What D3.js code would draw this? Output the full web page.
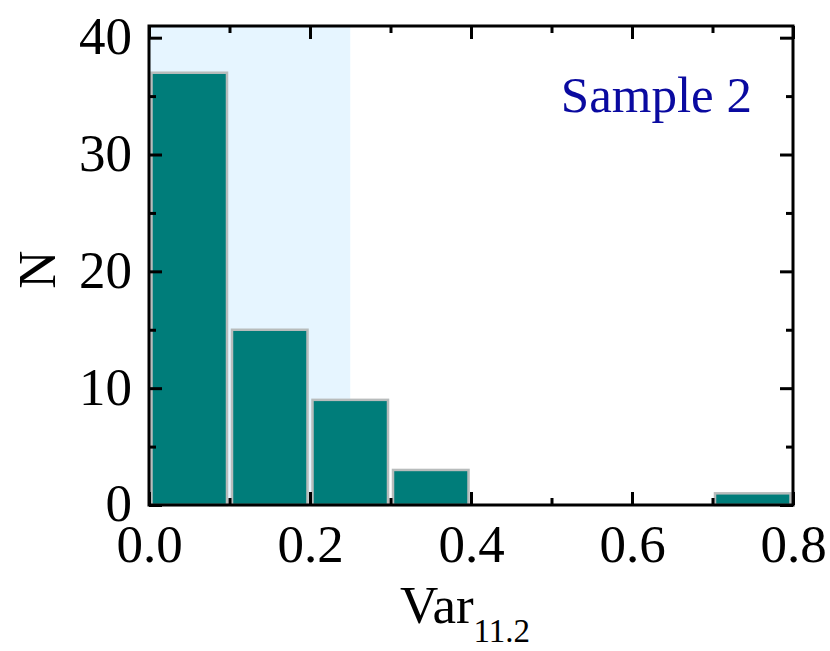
<!DOCTYPE html>
<html>
<head>
<meta charset="utf-8">
<script src="https://cdn.jsdelivr.net/npm/d3@7"></script>
<style>
  body { margin: 0; background: #fff; }
  svg { display: block; }
  text { font-family: "Liberation Serif", "Times New Roman", serif; }
</style>
</head>
<body>
<svg id="chart" width="830" height="651"></svg>
<script>
// Data
const binStarts = [0.0, 0.1, 0.2, 0.3, 0.7];
const binWidth = 0.1;
const counts = [37, 15, 9, 3, 1];
const shadeRange = [0.0, 0.25];
const xTickValues = [0.0, 0.2, 0.4, 0.6, 0.8];
const xTickLabels = ["0.0", "0.2", "0.4", "0.6", "0.8"];
const xMinorTicks = [0.1, 0.3, 0.5, 0.7];
const yTickValues = [0, 10, 20, 30, 40];
const yTickLabels = ["0", "10", "20", "30", "40"];
const yMinorTicks = [5, 15, 25, 35];
const sampleLabel = "Sample 2";

const svg = d3.select("#chart");
const m = { left: 149, right: 830 - 793, top: 26, bottom: 651 - 505 };
const W = 830 - m.left - m.right;
const H = 651 - m.top - m.bottom;

const x = d3.scaleLinear().domain([0, 0.8]).range([0, W]);
const y = d3.scaleLinear().domain([0, 41]).range([H, 0]);

const g = svg.append("g").attr("transform", `translate(${m.left},${m.top})`);

// shaded region
g.append("rect")
  .attr("x", x(shadeRange[0]))
  .attr("y", 0)
  .attr("width", x(shadeRange[1]) - x(shadeRange[0]))
  .attr("height", H)
  .attr("fill", "#e6f5ff");

// bars
const data = binStarts.map((s, i) => ({ s, c: counts[i] }));
g.selectAll("rect.bar").data(data).enter().append("rect")
  .attr("class", "bar")
  .attr("x", d => x(d.s) + 2.5)
  .attr("y", d => y(d.c))
  .attr("width", d => x(d.s + binWidth) - x(d.s) - 5)
  .attr("height", d => y(0) - y(d.c))
  .attr("fill", "#007d7a")
  .attr("stroke", "#b8bcbc")
  .attr("stroke-width", 2.5);

// axes with inward ticks
const tickStyle = sel => {
  sel.select(".domain").remove();
  sel.selectAll("line").attr("stroke", "#000").attr("stroke-width", 3);
};
const fontSize = 53;

// bottom major
g.append("g").attr("transform", `translate(0,${H})`)
  .call(d3.axisBottom(x).tickValues(xTickValues).tickSize(-13).tickPadding(21)
    .tickFormat((d, i) => xTickLabels[i]))
  .call(tickStyle)
  .call(s => s.selectAll("text").attr("font-size", fontSize).attr("fill", "#000")
    .attr("dy", "0.68em"));
// bottom minor
g.append("g").attr("transform", `translate(0,${H})`)
  .call(d3.axisBottom(x).tickValues(xMinorTicks).tickSize(-7).tickFormat(""))
  .call(tickStyle);
// top
g.append("g")
  .call(d3.axisTop(x).tickValues(xTickValues).tickSize(-13).tickFormat(""))
  .call(tickStyle);
g.append("g")
  .call(d3.axisTop(x).tickValues(xMinorTicks).tickSize(-7).tickFormat(""))
  .call(tickStyle);
// left
g.append("g")
  .call(d3.axisLeft(y).tickValues(yTickValues).tickSize(-13).tickPadding(17)
    .tickFormat((d, i) => yTickLabels[i]))
  .call(tickStyle)
  .call(s => s.selectAll("text").attr("font-size", fontSize).attr("fill", "#000")
    .attr("dy", "0.3em"));
g.append("g")
  .call(d3.axisLeft(y).tickValues(yMinorTicks).tickSize(-7).tickFormat(""))
  .call(tickStyle);
// right
g.append("g").attr("transform", `translate(${W},0)`)
  .call(d3.axisRight(y).tickValues(yTickValues).tickSize(-13).tickFormat(""))
  .call(tickStyle);
g.append("g").attr("transform", `translate(${W},0)`)
  .call(d3.axisRight(y).tickValues(yMinorTicks).tickSize(-7).tickFormat(""))
  .call(tickStyle);

// frame
g.append("rect").attr("x", 0).attr("y", 0).attr("width", W).attr("height", H)
  .attr("fill", "none").attr("stroke", "#000").attr("stroke-width", 3);

// Sample label
g.append("text")
  .attr("x", 752 - m.left)
  .attr("y", 86)
  .attr("text-anchor", "end")
  .attr("font-size", 51)
  .attr("fill", "#0a0aa0")
  .text(sampleLabel);

// Y axis label
svg.append("text")
  .attr("transform", `translate(55,${m.top + H / 2 + 4}) rotate(-90)`)
  .attr("text-anchor", "middle")
  .attr("font-size", 53)
  .attr("fill", "#000")
  .text("N");

// X axis label
const xl = svg.append("text")
  .attr("x", 400)
  .attr("y", 623)
  .attr("font-size", 53)
  .attr("fill", "#000");
xl.append("tspan").text("Var");
xl.append("tspan").attr("font-size", 33).attr("dy", 19).text("11.2");
</script>
</body>
</html>
